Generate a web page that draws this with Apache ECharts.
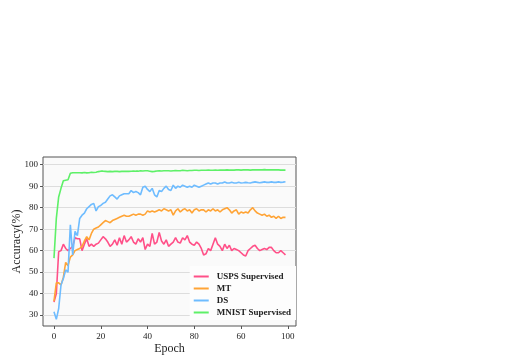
<!DOCTYPE html>
<html>
<head>
<meta charset="utf-8">
<script src="https://cdn.jsdelivr.net/npm/echarts@6/dist/echarts.min.js"></script>
<style>
  html, body { margin: 0; padding: 0; background: #fff; }
  #chart { width: 505px; height: 358px; }
</style>
</head>
<body>
<div id="chart"></div>
<script>
// accuracy per epoch
const uspsSupervised = [36, 40, 59.5, 60, 63, 61, 60, 61, 62, 66, 65.5, 65.5, 60, 63, 65.5, 62, 63, 62, 63, 63.5,
  65, 66.5, 65.5, 64, 62, 63, 65, 62.5, 66, 63, 67, 64, 65, 66.5, 64, 63, 65.5, 64, 66, 60.5,
  63, 62, 68, 63, 64, 68.5, 64.5, 63, 65, 62, 63, 64, 66, 64, 63.5, 66, 65, 67, 64, 63,
  62.5, 64, 63, 61, 58, 58.5, 61, 60, 63, 66, 63, 62, 60, 63, 61, 62.5, 60, 61, 60.5, 60,
  59, 58, 57.5, 60, 61, 62, 62.5, 61, 60, 60.5, 61, 60.5, 61.5, 61.5, 60, 59, 59, 60, 59, 58];
const mt = [36.5, 45, 45, 44, 47.5, 54.5, 53, 57, 58, 60, 60.5, 61, 62, 64.5, 66.5, 65, 68, 70, 70.5, 71,
  72, 73, 74, 73.5, 73, 74, 74.5, 75, 75.5, 76, 76.5, 76, 76, 76.5, 77, 76.5, 77, 77, 76.5, 77,
  78.5, 78, 78.5, 78, 78.5, 79, 78.5, 79.5, 79, 78.5, 79, 76.5, 78.5, 79.5, 78, 79, 79.5, 78.5, 79, 77.5,
  79, 79.5, 78.5, 79, 79, 78, 79, 78.5, 79.5, 78.5, 79, 78, 79, 79.5, 80, 79, 77.5, 78.5, 79, 77,
  78, 77.5, 78, 77.5, 79, 80, 78.5, 77.5, 77, 76.5, 77, 76, 76.5, 75.5, 76, 75, 76, 75, 75.5, 75.5];
const ds = [31.5, 28, 33, 44, 47, 51, 50, 72, 58, 69, 67, 75, 76.5, 77.5, 79.5, 80.5, 81.5, 82, 78.5, 80.5,
  81, 82, 82.5, 84, 85.5, 86, 85, 84, 85.5, 86, 86.5, 86.5, 86.5, 88, 87, 87.5, 87, 86, 89.5, 90,
  88.5, 87.5, 89, 86, 85, 88, 87.5, 89, 90, 88.5, 88, 90.5, 89, 90, 89.5, 90.5, 90, 89.5, 90, 89.5,
  90.5, 90, 89.5, 90, 90.5, 91, 91.5, 91, 91.5, 91.5, 91, 91.5, 91.5, 92, 91.5, 91.5, 91.8, 91.5, 91.5, 91.8,
  91.5, 91.6, 91.8, 91.6, 91.5, 91.8, 92, 91.8, 91.6, 91.8, 92, 91.8, 91.8, 92, 91.8, 91.8, 92, 91.8, 91.9, 92.1];
const mnistSupervised = [56.5, 75, 85, 89, 92.5, 92.8, 93, 96, 96.3, 96.3, 96.3, 96.3, 96.2, 96.4, 96.2, 96.3, 96.5, 96.4, 96.5, 96.8,
  97, 97, 96.9, 96.8, 96.9, 96.8, 96.9, 96.9, 96.8, 96.9, 97, 96.9, 96.9, 97, 97.1, 97, 97, 97.2, 97.1, 97.2,
  97.2, 97, 96.8, 96.9, 97.1, 97.2, 97.1, 97.2, 97.2, 97.2, 97.1, 97.2, 97.3, 97.2, 97.2, 97.4, 97.3, 97.2, 97.3, 97.3,
  97.4, 97.4, 97.3, 97.4, 97.4, 97.4, 97.5, 97.4, 97.4, 97.5, 97.4, 97.5, 97.5, 97.5, 97.6, 97.5, 97.5, 97.5, 97.6, 97.6,
  97.5, 97.6, 97.6, 97.6, 97.5, 97.6, 97.6, 97.6, 97.6, 97.6, 97.7, 97.6, 97.6, 97.6, 97.6, 97.6, 97.6, 97.5, 97.5, 97.5];

const xTicks = [0, 20, 40, 60, 80, 100];
const xTickLabels = ['0', '20', '40', '80', '60', '100']; // as printed in the figure
const yTicks = [30, 40, 50, 60, 70, 80, 90, 100];

const seriesNames = ['USPS Supervised', 'MT', 'DS', 'MNIST Supervised'];
const seriesColors = ['#ff5088', '#ffa436', '#6ebcff', '#5ef068'];
const seriesValues = [uspsSupervised, mt, ds, mnistSupervised];

const serif = '"Liberation Serif", "DejaVu Serif", serif';

const chart = echarts.init(document.getElementById('chart'), null, {renderer: 'canvas'});

const option = {
    backgroundColor: '#fff',
    animation: false,
    grid: {
        left: 43, right: 209, top: 157, bottom: 32,
        containLabel: false,
        outerBoundsMode: 'none',
        show: true,
        backgroundColor: '#fafafa',
        borderColor: '#555',
        borderWidth: 1
    },
    legend: {
        data: seriesNames,
        right: 209,
        bottom: 38,
        orient: 'vertical',
        icon: 'rect',
        itemWidth: 15,
        itemHeight: 2,
        itemGap: 3,
        padding: [6, 5, 3, 4],
        backgroundColor: '#fdfdfd',
        textStyle: {fontFamily: serif, fontSize: 9, fontWeight: 'bold', color: '#222', padding: [0, 0, 0, 3]}
    },
    xAxis: {
        type: 'value',
        min: -4.7,
        max: 103.5,
        name: 'Epoch',
        nameLocation: 'middle',
        nameGap: 17,
        nameMoveOverlap: false,
        nameTextStyle: {fontFamily: serif, fontSize: 12, color: '#222'},
        axisLine: {show: false, onZero: false},
        axisTick: {show: true, inside: false, length: 3, lineStyle: {color: '#555'}, customValues: xTicks},
        axisLabel: {
            customValues: xTicks,
            margin: 6,
            fontFamily: serif, fontSize: 9, color: '#222',
            formatter: v => xTickLabels[xTicks.indexOf(v)]
        },
        splitLine: {show: false}
    },
    yAxis: {
        type: 'value',
        min: 24.9,
        max: 103.6,
        name: 'Accuracy(%)',
        nameLocation: 'middle',
        nameGap: 20,
        nameMoveOverlap: false,
        nameTextStyle: {fontFamily: serif, fontSize: 12, color: '#222'},
        axisLine: {show: false, onZero: false},
        axisTick: {show: true, inside: false, length: 3, lineStyle: {color: '#555'}, customValues: yTicks},
        axisLabel: {customValues: yTicks, margin: 5, fontFamily: serif, fontSize: 9, color: '#222'},
        splitLine: {show: true, lineStyle: {color: '#dddddd', width: 1}}
    },
    series: seriesNames.map((name, k) => ({
        name: name,
        type: 'line',
        showSymbol: false,
        symbol: 'none',
        color: seriesColors[k],
        lineStyle: {width: 1.6, color: seriesColors[k]},
        data: seriesValues[k].map((v, i) => [i, v])
    }))
};

chart.setOption(option);
</script>
</body>
</html>
